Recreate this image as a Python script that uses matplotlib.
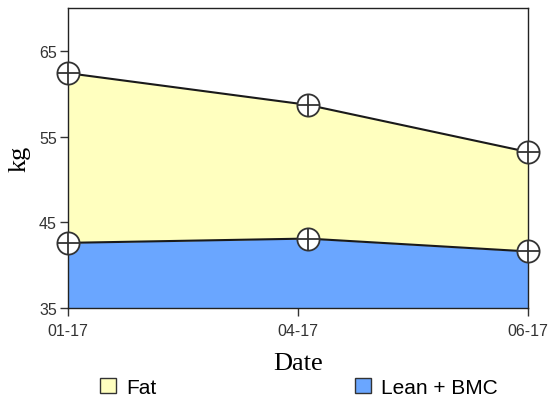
import matplotlib
matplotlib.use('Agg')
import matplotlib.pyplot as plt
from matplotlib.patches import Patch

# days since first measurement
days = [0, 74, 142]
tick_days = [0, 71, 142]
date_labels = ['01-17', '04-17', '06-17']
lean_bmc = [42.6, 43.1, 41.6]
total = [62.4, 58.7, 53.2]
yticks = [35, 45, 55, 65]

yellow = '#ffffbf'
blue = '#6aa6ff'

fig = plt.figure(figsize=(5.51, 4.02), dpi=100)
ax = fig.add_axes([68/551, 1-309/402, 460/551, 300/402])

ax.fill_between(days, 35, lean_bmc, color=blue, lw=0)
ax.fill_between(days, lean_bmc, total, color=yellow, lw=0)
ax.plot(days, lean_bmc, color='#1a1a1a', lw=1.5, zorder=3)
ax.plot(days, total, color='#1a1a1a', lw=1.5, zorder=3)

for ys in (lean_bmc, total):
    ax.plot(days, ys, 'o', ms=16, mfc='white', mec='#333333', mew=1.3,
            zorder=4, clip_on=False)
    ax.plot(days, ys, '+', ms=16, mec='#333333', mew=1.3, zorder=5,
            clip_on=False)

ax.set_xlim(days[0], days[-1])
ax.set_ylim(35, 70)
ax.set_xticks(tick_days)
ax.set_xticklabels(date_labels)
ax.set_yticks(yticks)
ax.tick_params(direction='out', length=6, width=1, color='#333333',
               labelcolor='#333333', labelsize=11.5, pad=2)
ax.tick_params(axis='x', pad=5)
for lab in ax.get_xticklabels() + ax.get_yticklabels():
    lab.set_family('Liberation Sans')
for s in ax.spines.values():
    s.set_color('#222222')
    s.set_linewidth(1)

ax.set_xlabel('Date', family='Liberation Serif', fontsize=19, labelpad=10)
ax.set_ylabel('kg', family='Liberation Serif', fontsize=19, labelpad=6)

handles = [Patch(facecolor=yellow, edgecolor='#333333', lw=1, label='Fat'),
           Patch(facecolor=blue, edgecolor='#333333', lw=1, label='Lean + BMC')]
fig.legend(handles=handles, loc='lower center', bbox_to_anchor=(0.543, -0.037),
           ncol=2, frameon=False, prop={'family': 'Liberation Sans', 'size': 15},
           handlelength=0.75, handleheight=0.75, handletextpad=0.5,
           columnspacing=9.55)

fig.savefig('out.png', dpi=100)
